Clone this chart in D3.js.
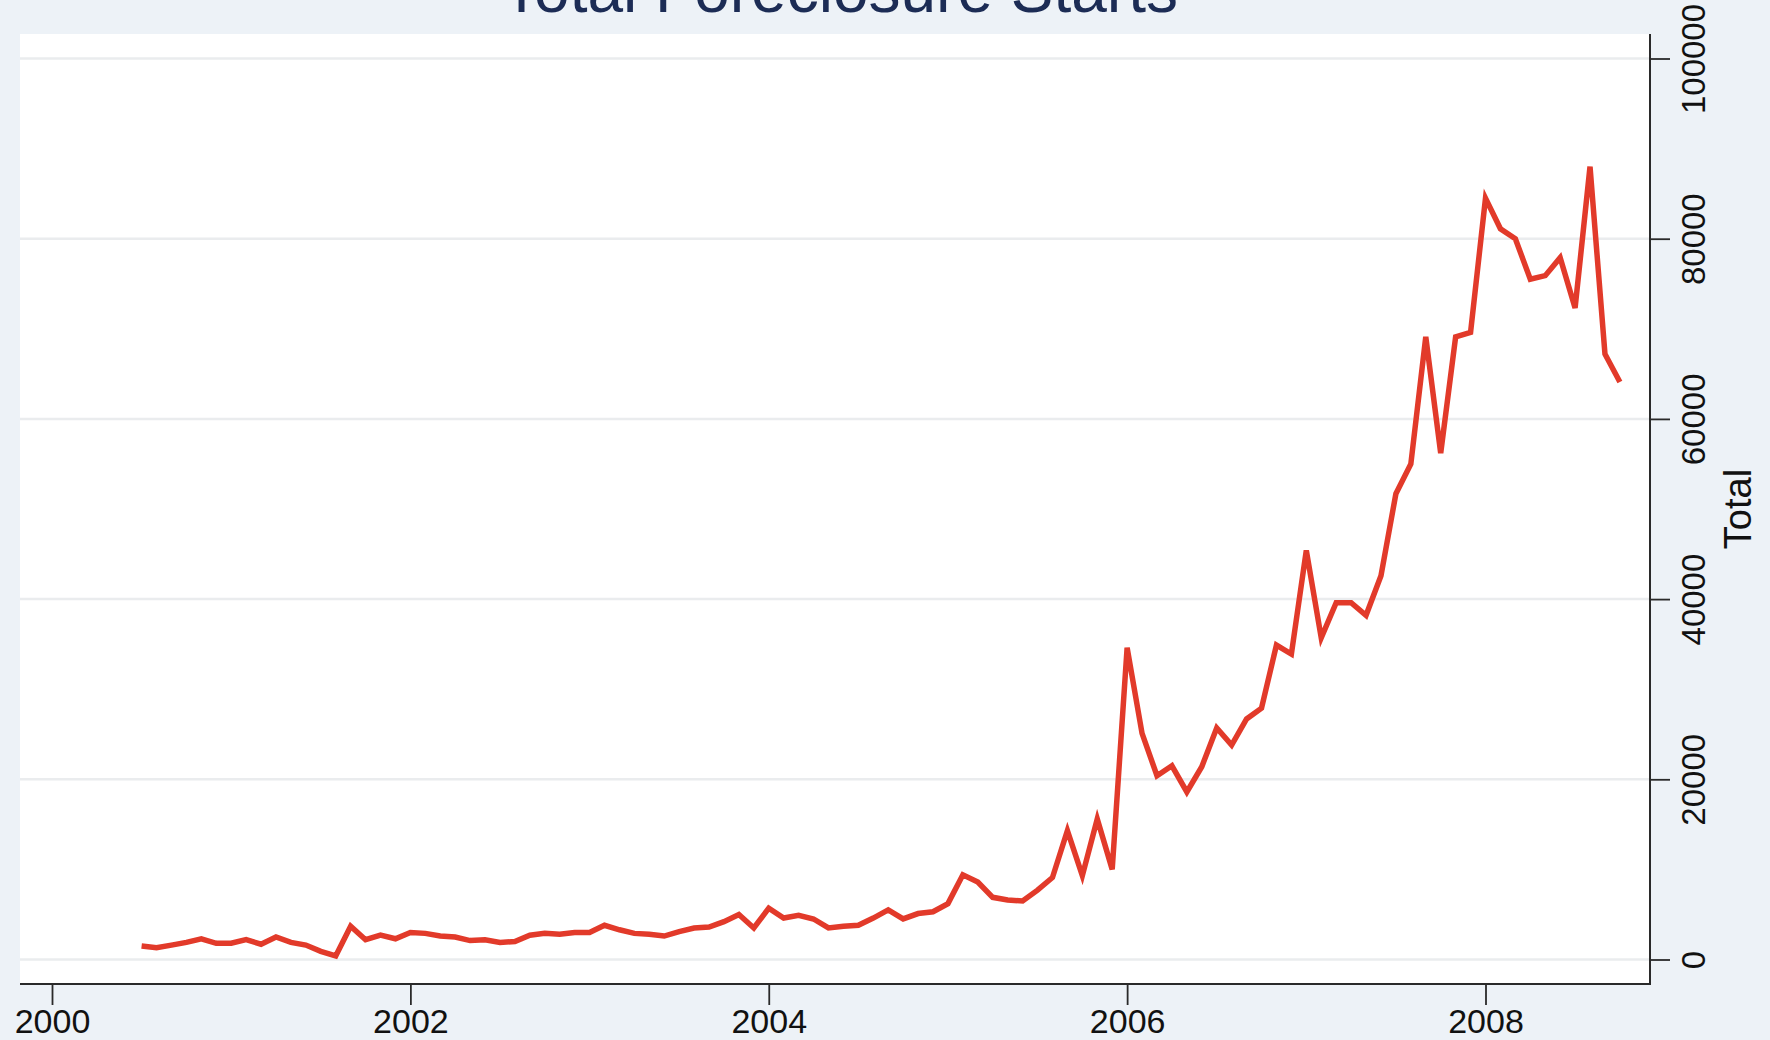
<!DOCTYPE html>
<html>
<head>
<meta charset="utf-8">
<script src="https://cdn.jsdelivr.net/npm/d3@7"></script>
<style>
  html, body { margin: 0; padding: 0; background: #edf2f7; }
  svg { display: block; }
  text { font-family: "Liberation Sans", Arial, Helvetica, sans-serif; }
</style>
</head>
<body>
<svg id="chart" width="1770" height="1040"></svg>
<script>
// ---- data ----
const title = "Total Foreclosure Starts";
const yTitle = "Total";
const startMonth = "2000-07";   // first observation
const endMonth = "2008-10";     // last observation
const xTickValues = [2000, 2002, 2004, 2006, 2008];
const yTickValues = [0, 20000, 40000, 60000, 80000, 100000];
// monthly totals, Jul 2000 .. Oct 2008
const totals = [
  1500, 1300, 1600, 1900, 2300, 1800, 1800, 2200, 1700, 2500, 1900, 1600,
  900, 400, 3700, 2200, 2700, 2300, 3000, 2900, 2600, 2500, 2100, 2200,
  1900, 2000, 2700, 2900, 2800, 3000, 3000, 3800, 3300, 2900, 2800, 2600,
  3100, 3500, 3600, 4200, 5000, 3500, 5700, 4600, 4900, 4500, 3500, 3700,
  3800, 4600, 5500, 4500, 5100, 5300, 6200, 9400, 8600, 6900, 6600, 6500,
  7700, 9100, 14300, 9300, 15600, 10000, 34600, 25100, 20400, 21500, 18600, 21400,
  25700, 23800, 26700, 27900, 34900, 33900, 45400, 35700, 39600, 39600, 38200, 42600,
  51700, 55000, 69100, 56200, 69100, 69600, 84500, 81100, 80000, 75500, 75900, 77900,
  72300, 88000, 67200, 64100
];

// ---- build ----
const parse = d3.timeParse("%Y-%m");
const months = d3.timeMonth.range(parse(startMonth), d3.timeMonth.offset(parse(endMonth), 1));
const data = months.map((m, i) => ({ t: m.getFullYear() + m.getMonth() / 12, v: totals[i] }));

const svg = d3.select("#chart");
const plot = { left: 20, right: 1650, top: 34, bottom: 984 };

const x = d3.scaleLinear().domain([2000, 2008]).range([52, 1485.5]);
const y = d3.scaleLinear().domain([0, 100000]).range([959.5, 58.5]);

// background
svg.append("rect").attr("width", 1770).attr("height", 1040).attr("fill", "#edf2f7");
svg.append("rect")
  .attr("x", plot.left).attr("y", plot.top)
  .attr("width", plot.right - plot.left).attr("height", plot.bottom - plot.top)
  .attr("fill", "#ffffff");

// gridlines
svg.append("g").selectAll("line").data(yTickValues).join("line")
  .attr("x1", plot.left).attr("x2", plot.right)
  .attr("y1", d => y(d)).attr("y2", d => y(d))
  .attr("stroke", "#eaecee").attr("stroke-width", 2.5);

// line
svg.append("path")
  .datum(data)
  .attr("fill", "none")
  .attr("stroke", "#e23a2a")
  .attr("stroke-width", 5.5)
  .attr("stroke-linejoin", "miter")
  .attr("d", d3.line().x(d => x(d.t)).y(d => y(d.v)));

// x axis
const xAxis = svg.append("g")
  .attr("transform", `translate(0,${plot.bottom})`)
  .call(d3.axisBottom(x).tickValues(xTickValues).tickFormat(d3.format("d"))
        .tickSize(21).tickPadding(4));
xAxis.select(".domain").remove();
xAxis.append("line")
  .attr("x1", plot.left).attr("x2", plot.right + 1).attr("y1", 0).attr("y2", 0)
  .attr("stroke", "#2a2a2a").attr("stroke-width", 2);
xAxis.selectAll(".tick line").attr("stroke", "#2a2a2a").attr("stroke-width", 1.8);
xAxis.selectAll(".tick text")
  .attr("fill", "#111").attr("font-size", 34)
  .attr("font-family", "'Liberation Sans', Arial, sans-serif");

// y axis (right)
const yAxis = svg.append("g")
  .attr("transform", `translate(${plot.right},0)`)
  .call(d3.axisRight(y).tickValues(yTickValues).tickFormat(d3.format("d"))
        .tickSize(20).tickPadding(0));
yAxis.select(".domain").remove();
yAxis.append("line")
  .attr("x1", 0).attr("x2", 0).attr("y1", plot.top).attr("y2", plot.bottom + 1)
  .attr("stroke", "#2a2a2a").attr("stroke-width", 2);
yAxis.selectAll(".tick line").attr("stroke", "#2a2a2a").attr("stroke-width", 1.8);
yAxis.selectAll(".tick text")
  .attr("fill", "#111").attr("font-size", 33)
  .attr("font-family", "'Liberation Sans', Arial, sans-serif")
  .attr("x", 0).attr("dy", null)
  .attr("text-anchor", "middle")
  .attr("transform", "translate(43,0) rotate(-90)")
  .attr("dominant-baseline", "central");

// y title
svg.append("text")
  .attr("transform", `translate(1738,509) rotate(-90)`)
  .attr("text-anchor", "middle")
  .attr("dominant-baseline", "central")
  .attr("font-size", 38)
  .attr("fill", "#111")
  .text(yTitle);

// title (partly cut off at top, as in the reference)
svg.append("text")
  .attr("x", 840).attr("y", 12)
  .attr("text-anchor", "middle")
  .attr("font-size", 64)
  .attr("fill", "#1c2c55")
  .text(title);
</script>
</body>
</html>
